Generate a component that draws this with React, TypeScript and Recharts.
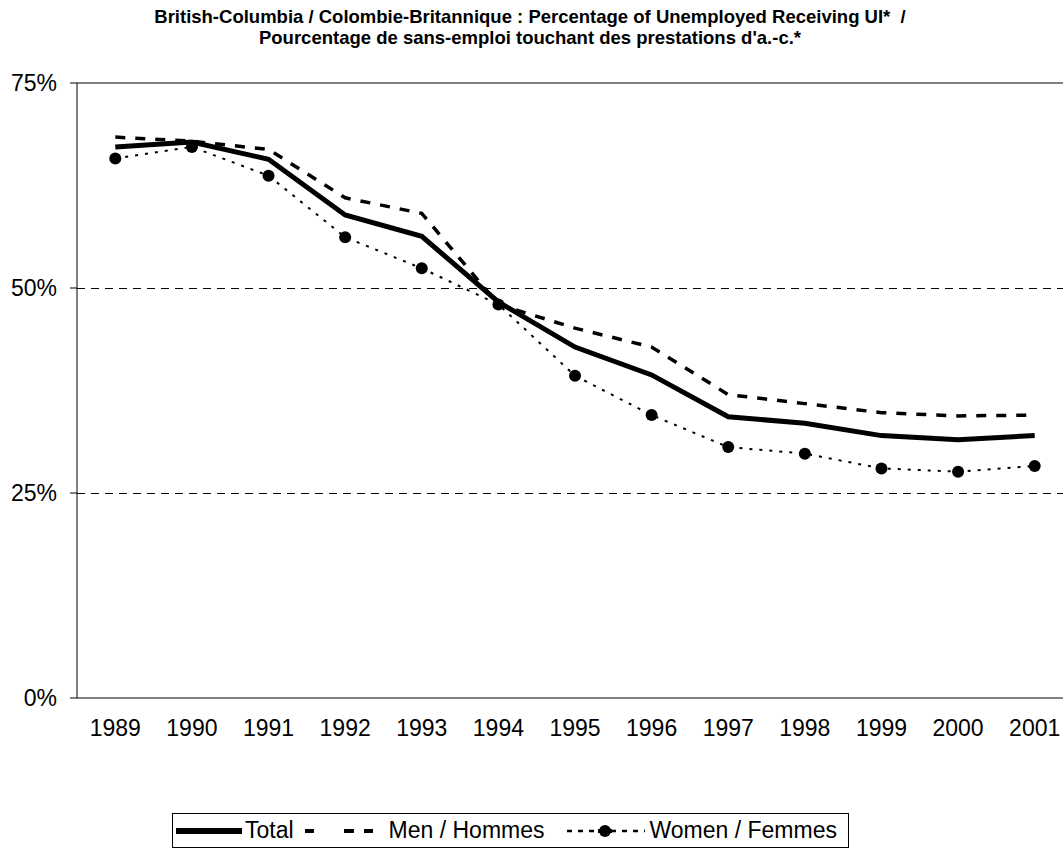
import React from 'react';
import { LineChart, Line, XAxis, YAxis, CartesianGrid, ReferenceLine, Legend } from 'recharts';

const years = ['1989', '1990', '1991', '1992', '1993', '1994', '1995', '1996', '1997', '1998', '1999', '2000', '2001'];
const total = [67.2, 67.8, 65.7, 58.9, 56.3, 48.3, 42.8, 39.4, 34.3, 33.5, 32.0, 31.5, 32.0];
const men = [68.4, 67.9, 66.9, 61.0, 59.1, 48.0, 45.1, 42.8, 37.0, 35.9, 34.8, 34.4, 34.5];
const women = [65.8, 67.2, 63.7, 56.2, 52.4, 48.0, 39.3, 34.5, 30.6, 29.8, 28.0, 27.6, 28.3];
const yTicks = [0, 25, 50, 75];

const data = years.map((y, i) => ({ idx: i, year: y, total: total[i], men: men[i], women: women[i] }));
const labelTicks = years.map((_, i) => i);
const boundTicks = [...years.map((_, i) => i - 0.5), years.length - 0.5];

const FONT = '"Liberation Sans", Arial, sans-serif';

const renderLegend = () => (
  <div
    style={{
      display: 'flex',
      alignItems: 'center',
      border: '1px solid #000',
      height: 35,
      boxSizing: 'border-box',
      padding: '0 11px 0 3px',
      fontSize: 23,
      fontFamily: FONT,
      color: '#000',
      background: '#fff',
      whiteSpace: 'nowrap',
    }}
  >
    <svg width={66} height={20} style={{ display: 'block' }}>
      <line x1={0} x2={66} y1={10} y2={10} stroke="#000" strokeWidth={6} />
    </svg>
    <span style={{ marginLeft: 3 }}>Total</span>
    <svg width={75} height={20} style={{ display: 'block', marginLeft: 8 }}>
      <rect x={3} y={8} width={9} height={4} fill="#000" />
      <rect x={42} y={8} width={10} height={4} fill="#000" />
      <rect x={62} y={8} width={9} height={4} fill="#000" />
    </svg>
    <span style={{ marginLeft: 12 }}>Men / Hommes</span>
    <svg width={85} height={20} style={{ display: 'block', marginLeft: 17 }}>
      <line x1={5} x2={83} y1={10} y2={10} stroke="#000" strokeWidth={2.5} strokeDasharray="5 6" />
      <circle cx={43} cy={10} r={6} fill="#000" stroke="#fff" strokeWidth={0} />
      <rect x={36} y={8} width={14} height={4} fill="#000" />
    </svg>
    <span style={{ marginLeft: 3 }}>Women / Femmes</span>
  </div>
);

export default function App() {
  return (
    <div style={{ position: 'absolute', left: 0, top: 0, width: 1063, height: 848, overflow: 'hidden', background: '#fff' }}>
      <div
        style={{
          position: 'absolute',
          left: 0,
          top: 6,
          width: 1060,
          textAlign: 'center',
          fontFamily: FONT,
          fontWeight: 'bold',
          fontSize: 18.5,
          lineHeight: '21px',
          color: '#000',
        }}
      >
        <div>British-Columbia / Colombie-Britannique : Percentage of Unemployed Receiving UI*&nbsp; /</div>
        <div>Pourcentage de sans-emploi touchant des prestations d'a.-c.*</div>
      </div>
      <LineChart width={1100} height={848} data={data} margin={{ top: 83, right: 27, bottom: 102, left: 0 }}>
        <CartesianGrid
          horizontal
          vertical={false}
          horizontalValues={[25, 50]}
          stroke="#000"
          strokeDasharray="8 6"
          strokeWidth={1}
          shapeRendering="crispEdges"
        />
        <XAxis
          xAxisId="bound"
          type="number"
          dataKey="idx"
          domain={[-0.5, years.length - 0.5]}
          ticks={boundTicks}
          tick={false}
          tickLine={{ stroke: '#808080', strokeWidth: 1 }}
          tickSize={6}
          axisLine={{ stroke: '#000', strokeWidth: 1 }}
          height={8}
          allowDataOverflow
        />
        <XAxis
          xAxisId="lab"
          type="number"
          dataKey="idx"
          domain={[-0.5, years.length - 0.5]}
          ticks={labelTicks}
          tickFormatter={(v: number) => years[v] ?? ''}
          tick={{ fontSize: 23, fill: '#000', fontFamily: FONT }}
          tickLine={false}
          tickSize={0}
          tickMargin={14}
          axisLine={false}
          height={40}
          interval={0}
          allowDataOverflow
        />
        <YAxis
          type="number"
          domain={[0, 75]}
          ticks={yTicks}
          tickFormatter={(v: number) => `${v}%`}
          tick={{ fontSize: 23, fill: '#000', fontFamily: FONT }}
          tickLine={{ stroke: '#000', strokeWidth: 1 }}
          tickSize={7}
          tickMargin={13}
          axisLine={{ stroke: '#000', strokeWidth: 1 }}
          width={77}
          interval={0}
        />
        <ReferenceLine y={75} xAxisId="lab" stroke="#000" strokeWidth={1} />
        <ReferenceLine x={years.length - 0.5} xAxisId="lab" stroke="#000" strokeWidth={1} />
        <Line
          xAxisId="lab"
          type="linear"
          dataKey="men"
          name="Men / Hommes"
          stroke="#000"
          strokeWidth={3.5}
          strokeDasharray="10 10"
          dot={false}
          isAnimationActive={false}
        />
        <Line
          xAxisId="lab"
          type="linear"
          dataKey="women"
          name="Women / Femmes"
          stroke="#000"
          strokeWidth={2}
          strokeDasharray="3 7"
          dot={{ r: 6, fill: '#000', stroke: '#000', strokeWidth: 0 }}
          isAnimationActive={false}
        />
        <Line
          xAxisId="lab"
          type="linear"
          dataKey="total"
          name="Total"
          stroke="#000"
          strokeWidth={5}
          dot={false}
          isAnimationActive={false}
        />
        <Legend
          layout="horizontal"
          verticalAlign="middle"
          align="center"
          content={renderLegend}
          wrapperStyle={{ top: 813, left: 172, width: 'auto', height: 35 }}
        />
      </LineChart>
    </div>
  );
}
